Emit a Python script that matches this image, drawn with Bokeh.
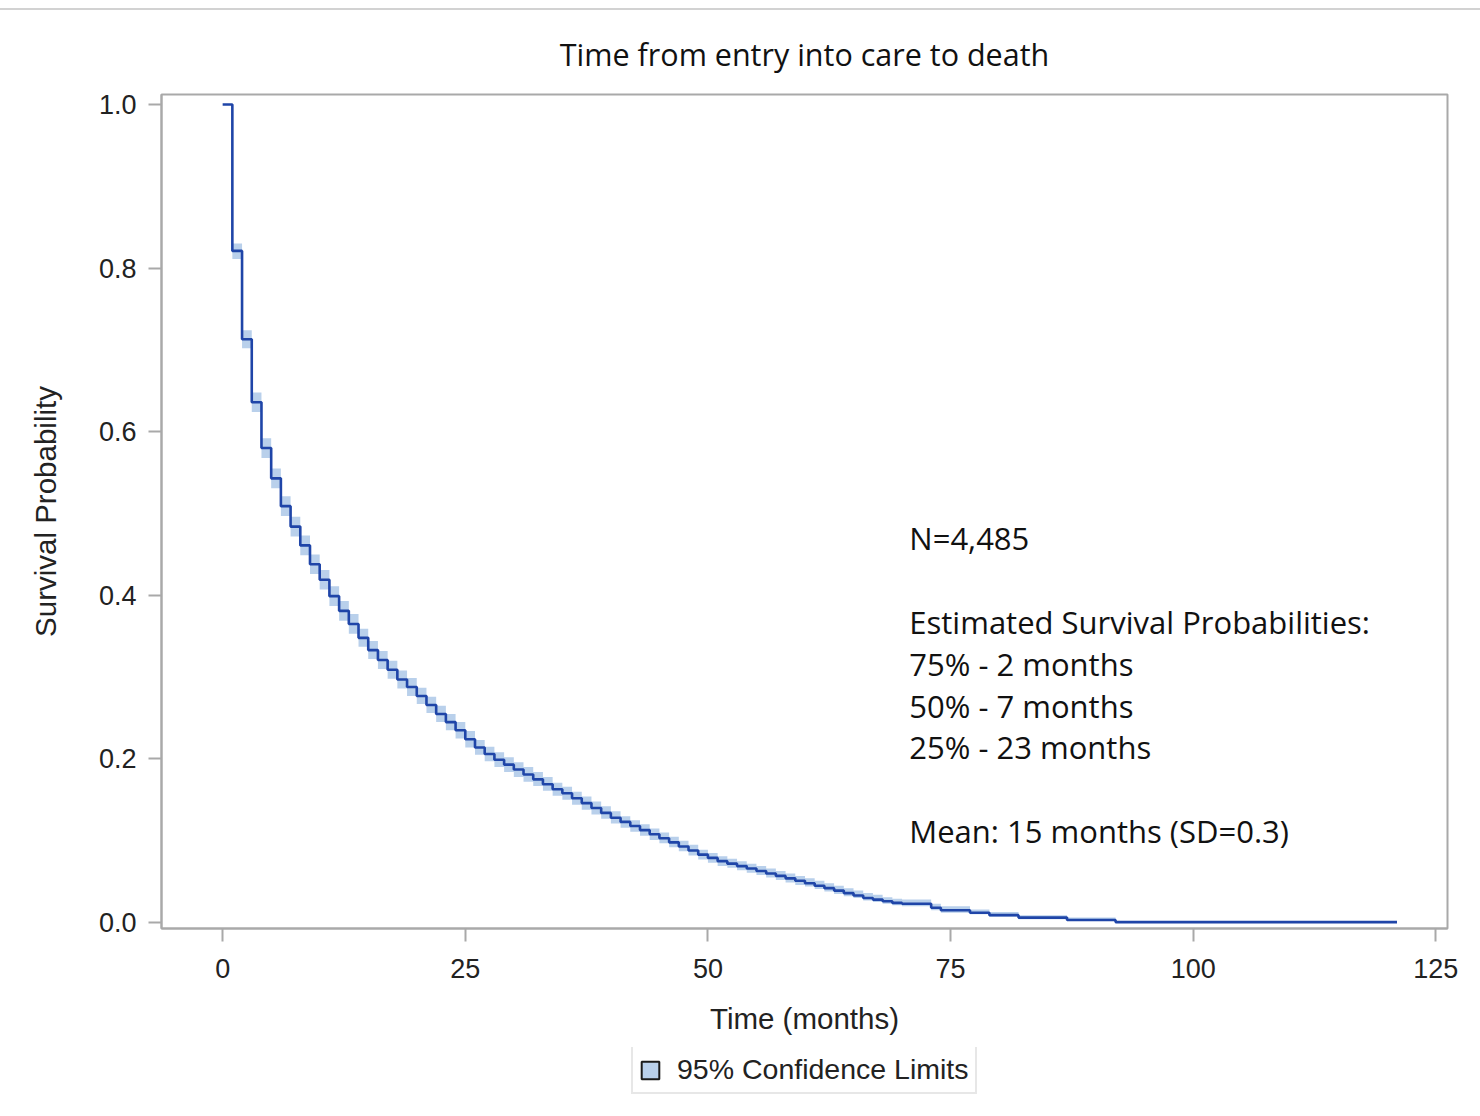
from bokeh.plotting import figure
from bokeh.models import Range1d, FixedTicker, Label, Legend, LegendItem, Div
from bokeh.layouts import column
from bokeh.embed import file_html
from bokeh.resources import INLINE

# ---------------- data ----------------
chart_title = "Time from entry into care to death"
x_label = "Time (months)"
y_label = "Survival Probability"
legend_label = "95% Confidence Limits"

# step times (months) where the Kaplan-Meier estimate changes
times = [0, 1, 2, 3, 4, 5, 6, 7, 8, 9, 10, 11, 12, 13, 14, 15, 16, 17, 18, 19,
         20, 21, 22, 23, 24, 25, 26, 27, 28, 29, 30, 31, 32, 33, 34, 35, 36, 37, 38, 39,
         40, 41, 42, 43, 44, 45, 46, 47, 48, 49, 50, 51, 52, 53, 54, 55, 56, 57, 58, 59,
         60, 61, 62, 63, 64, 65, 66, 67, 68, 69, 70, 73, 74, 77, 79, 82, 87, 92, 97]
survival = [1.000, 0.821, 0.713, 0.636, 0.580, 0.543, 0.509, 0.484, 0.461, 0.438,
            0.419, 0.399, 0.381, 0.365, 0.348, 0.333, 0.321, 0.309, 0.297, 0.288,
            0.277, 0.266, 0.255, 0.245, 0.235, 0.224, 0.214, 0.206, 0.199, 0.193,
            0.187, 0.181, 0.175, 0.169, 0.163, 0.158, 0.152, 0.146, 0.140, 0.134,
            0.128, 0.123, 0.118, 0.113, 0.108, 0.103, 0.098, 0.093, 0.088, 0.083,
            0.079, 0.075, 0.072, 0.069, 0.066, 0.063, 0.060, 0.057, 0.054, 0.051,
            0.048, 0.045, 0.042, 0.039, 0.036, 0.033, 0.030, 0.028, 0.026, 0.024,
            0.023, 0.018, 0.015, 0.012, 0.009, 0.006, 0.003, 0.0005, 0.0005]
lower_cl = [1.000, 0.811, 0.702, 0.624, 0.568, 0.531, 0.497, 0.472, 0.449, 0.426,
            0.407, 0.387, 0.369, 0.353, 0.337, 0.322, 0.310, 0.298, 0.286, 0.277,
            0.267, 0.256, 0.245, 0.235, 0.225, 0.214, 0.205, 0.197, 0.190, 0.184,
            0.178, 0.172, 0.167, 0.161, 0.155, 0.150, 0.144, 0.138, 0.132, 0.127,
            0.121, 0.116, 0.111, 0.106, 0.101, 0.097, 0.092, 0.087, 0.082, 0.077,
            0.073, 0.069, 0.067, 0.064, 0.061, 0.058, 0.055, 0.052, 0.049, 0.046,
            0.044, 0.041, 0.038, 0.035, 0.032, 0.030, 0.027, 0.025, 0.023, 0.021,
            0.020, 0.015, 0.012, 0.010, 0.007, 0.004, 0.002, 0.0002, 0.0005]
upper_cl = [1.000, 0.830, 0.724, 0.648, 0.592, 0.555, 0.521, 0.496, 0.473, 0.450,
            0.431, 0.411, 0.393, 0.377, 0.359, 0.344, 0.332, 0.320, 0.308, 0.299,
            0.287, 0.276, 0.265, 0.255, 0.245, 0.234, 0.223, 0.215, 0.208, 0.202,
            0.196, 0.190, 0.184, 0.178, 0.171, 0.166, 0.160, 0.154, 0.148, 0.142,
            0.136, 0.130, 0.125, 0.120, 0.115, 0.110, 0.105, 0.100, 0.095, 0.089,
            0.085, 0.081, 0.078, 0.075, 0.072, 0.069, 0.066, 0.063, 0.060, 0.057,
            0.054, 0.051, 0.048, 0.045, 0.042, 0.039, 0.036, 0.034, 0.031, 0.029,
            0.028, 0.023, 0.020, 0.016, 0.013, 0.009, 0.006, 0.002, 0.0005]
last_followup = 121

x_ticks = [0, 25, 50, 75, 100, 125]
y_ticks = [0.0, 0.2, 0.4, 0.6, 0.8, 1.0]
y_tick_labels = ["0.0", "0.2", "0.4", "0.6", "0.8", "1.0"]

inset_lines = ["N=4,485", "", "Estimated Survival Probabilities:", "75% - 2 months",
               "50% - 7 months", "25% - 23 months", "", "Mean: 15 months (SD=0.3)"]

# ---------------- styling ----------------
LINE_COLOR = "#1f45a8"
BAND_COLOR = "#b9d0eb"
AXIS_COLOR = "#a9a9a9"
TEXT_COLOR = "#222222"
SANS = "Liberation Sans"

xs = times + [last_followup]
ys = survival + [survival[-1]]
lo = lower_cl + [lower_cl[-1]]
hi = upper_cl + [upper_cl[-1]]

p = figure(width=1480, height=1037, output_backend="svg", toolbar_location=None,
           x_range=Range1d(-6.3, 126.2), y_range=Range1d(-0.0073, 1.0122),
           min_border_left=161, min_border_right=33, min_border_top=84,
           min_border_bottom=119, background_fill_color="white",
           border_fill_color="white", margin=0)

p.varea_step(x=xs, y1=lo, y2=hi, step_mode="after", fill_color=BAND_COLOR)
p.step(x=xs, y=ys, mode="after", line_color=LINE_COLOR, line_width=2.6)

p.grid.visible = False
p.outline_line_color = AXIS_COLOR
p.outline_line_width = 2

p.title.text = chart_title
p.title.align = "center"
p.title.text_font = "Open Sans"
p.title.text_font_size = "30.5px"
p.title.text_font_style = "normal"
p.title.text_color = "#111111"
p.title.standoff = 40

for ax in (p.xaxis[0], p.yaxis[0]):
    ax.axis_line_color = AXIS_COLOR
    ax.axis_line_width = 2
    ax.major_tick_line_color = AXIS_COLOR
    ax.major_tick_line_width = 2
    ax.major_tick_out = 13
    ax.major_tick_in = 0
    ax.minor_tick_line_color = None
    ax.major_label_text_font = SANS
    ax.major_label_text_font_size = "27px"
    ax.major_label_text_color = TEXT_COLOR
    ax.axis_label_text_font = SANS
    ax.axis_label_text_font_size = "29.5px"
    ax.axis_label_text_font_style = "normal"
    ax.axis_label_text_color = TEXT_COLOR

p.xaxis.ticker = FixedTicker(ticks=x_ticks)
p.yaxis.ticker = FixedTicker(ticks=y_ticks)
p.yaxis.major_label_overrides = {v: s for v, s in zip(y_ticks, y_tick_labels)}
p.xaxis.axis_label = x_label
p.yaxis.axis_label = y_label
p.xaxis.major_label_standoff = 17
p.yaxis.major_label_standoff = 12
p.xaxis.axis_label_standoff = 21
p.yaxis.axis_label_standoff = 34

# inset text block
inset_x = 70.75
inset_top = 0.4695
inset_step = 0.0511
for i, line in enumerate(inset_lines):
    if not line:
        continue
    p.add_layout(Label(x=inset_x, y=inset_top - i * inset_step, text=line,
                       text_font="Open Sans", text_font_size="31px",
                       text_color="#111111", text_baseline="middle",
                       text_align="left"))

# ---------------- legend strip below the plot ----------------
lg = figure(width=1480, height=69, output_backend="svg", toolbar_location=None,
            x_range=Range1d(0, 1), y_range=Range1d(0, 1),
            x_axis_location=None, y_axis_location=None,
            min_border=0, min_border_left=0, min_border_right=0,
            min_border_top=0, min_border_bottom=0,
            outline_line_color=None, background_fill_color="white",
            border_fill_color="white", margin=0)
lg.grid.visible = False
proxy = lg.quad(left=[5], right=[6], top=[5], bottom=[6], fill_color=BAND_COLOR,
                line_color="#1a1a1a", line_width=2)
legend = Legend(items=[LegendItem(label=legend_label, renderers=[proxy])],
                location=(470, 22), orientation="horizontal",
                border_line_color="#d0d0d0", border_line_width=2,
                background_fill_color="white", background_fill_alpha=1,
                label_text_font=SANS, label_text_font_size="28.5px",
                label_text_color=TEXT_COLOR, glyph_width=22, glyph_height=22,
                label_standoff=16, padding=6, spacing=0, margin=0,
                label_height=24)
lg.add_layout(legend)

top_rule = Div(text="", width=1480, height=10, margin=0,
               styles={"border-bottom": "2px solid #d2d2d2", "box-sizing": "border-box"})

page = column(top_rule, p, lg, spacing=0)
open("out.html", "w").write(file_html(page, INLINE))
